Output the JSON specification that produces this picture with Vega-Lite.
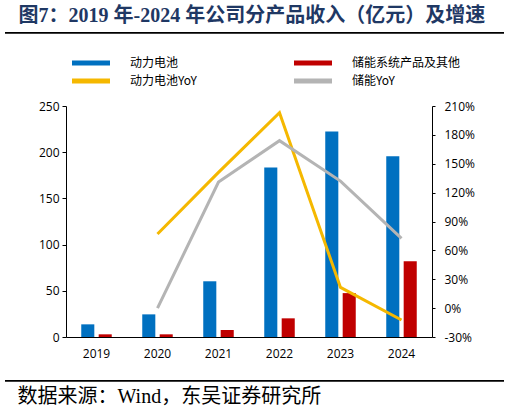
{
  "$schema": "https://vega.github.io/schema/vega-lite/v6.json",
  "autosize": "none",
  "width": 366,
  "height": 231,
  "padding": {"left": 66, "top": 106, "right": 77, "bottom": 76},
  "background": "white",
  "config": {
    "view": {"stroke": null},
    "axis": {"grid": false, "domainColor": "#000", "tickColor": "#000", "labelColor": "#000", "labelFont": "Open Sans", "labelFontSize": 12}
  },
  "data": {
    "values": [
      {"year": "2019", "series": "动力电池", "value": 13.7},
      {"year": "2020", "series": "动力电池", "value": 24.5},
      {"year": "2021", "series": "动力电池", "value": 60.3},
      {"year": "2022", "series": "动力电池", "value": 183.5},
      {"year": "2023", "series": "动力电池", "value": 222.5},
      {"year": "2024", "series": "动力电池", "value": 195.5},
      {"year": "2019", "series": "储能系统产品及其他", "value": 2.9},
      {"year": "2020", "series": "储能系统产品及其他", "value": 2.9},
      {"year": "2021", "series": "储能系统产品及其他", "value": 7.6},
      {"year": "2022", "series": "储能系统产品及其他", "value": 20.2},
      {"year": "2023", "series": "储能系统产品及其他", "value": 47.5},
      {"year": "2024", "series": "储能系统产品及其他", "value": 82},
      {"year": "2020", "series": "动力电池YoY", "value": 77},
      {"year": "2021", "series": "动力电池YoY", "value": 141},
      {"year": "2022", "series": "动力电池YoY", "value": 203},
      {"year": "2023", "series": "动力电池YoY", "value": 21.5},
      {"year": "2024", "series": "动力电池YoY", "value": -12.3},
      {"year": "2020", "series": "储能YoY", "value": 0},
      {"year": "2021", "series": "储能YoY", "value": 131},
      {"year": "2022", "series": "储能YoY", "value": 174},
      {"year": "2023", "series": "储能YoY", "value": 132},
      {"year": "2024", "series": "储能YoY", "value": 72.5}
    ]
  },
  "layer": [
    {
      "transform": [{"filter": {"field": "series", "oneOf": ["动力电池", "储能系统产品及其他"]}}],
      "mark": {"type": "bar"},
      "encoding": {
        "x": {
          "field": "year",
          "type": "nominal",
          "scale": {"paddingInner": 0.5, "paddingOuter": 0.25},
          "axis": {
            "labelAngle": 0,
            "ticks": false,
            "labelPadding": 11,
            "title": "数据来源：Wind，东吴证券研究所",
            "titleFont": "Liberation Serif, Noto Sans CJK SC",
            "titleFontSize": 20,
            "titleFontWeight": "normal",
            "titleColor": "#000",
            "titleAnchor": "start",
            "titleAlign": "left",
            "titleBaseline": "middle",
            "titleX": -49,
            "titleY": 59
          }
        },
        "xOffset": {
          "field": "series",
          "scale": {"domain": ["动力电池", "储能系统产品及其他"], "paddingInner": 0.25, "paddingOuter": 0}
        },
        "y": {
          "field": "value",
          "type": "quantitative",
          "scale": {"domain": [0, 250], "nice": false},
          "axis": {
            "orient": "left",
            "values": [0, 50, 100, 150, 200, 250],
            "tickSize": 4,
            "labelPadding": 3,
            "title": "图7：2019 年-2024 年公司分产品收入（亿元）及增速",
            "titleFont": "Liberation Serif, Noto Sans CJK SC",
            "titleFontSize": 20,
            "titleFontWeight": "bold",
            "titleColor": "#1F3864",
            "titleAngle": 0,
            "titleAnchor": "start",
            "titleAlign": "left",
            "titleBaseline": "middle",
            "titleX": -48,
            "titleY": -91
          }
        },
        "color": {
          "field": "series",
          "type": "nominal",
          "scale": {
            "domain": ["动力电池", "储能系统产品及其他", "动力电池YoY", "储能YoY"],
            "range": ["#0070C0", "#C00000", "#F5B800", "#B4B4B4"]
          },
          "legend": {
            "orient": "none",
            "direction": "horizontal",
            "legendX": 5,
            "legendY": -49,
            "columns": 2,
            "columnPadding": 96,
            "rowPadding": 6,
            "padding": 0,
            "title": null,
            "symbolType": "M-3.8,-0.5H3.8V0.5H-3.8Z",
            "symbolSize": 100,
            "symbolStrokeWidth": 0,
            "symbolOffset": 14,
            "labelOffset": 33,
            "labelFont": "Noto Sans CJK SC",
            "labelFontSize": 12,
            "labelColor": "#000"
          }
        }
      }
    },
    {
      "transform": [{"filter": {"field": "series", "oneOf": ["动力电池YoY", "储能YoY"]}}],
      "mark": {"type": "line", "strokeWidth": 3},
      "encoding": {
        "x": {"field": "year", "type": "nominal"},
        "y": {
          "field": "value",
          "type": "quantitative",
          "scale": {"domain": [-30, 210], "nice": false},
          "axis": {"orient": "right", "values": [-30, 0, 30, 60, 90, 120, 150, 180, 210], "labelExpr": "datum.value + '%'", "title": null, "tickSize": 3, "labelPadding": 9}
        },
        "color": {"field": "series", "type": "nominal"}
      }
    },
    {
      "data": {"values": [{"edge": "top"}]},
      "mark": {"type": "rect", "fill": "#000", "stroke": null},
      "encoding": {
        "x": {"value": -61},
        "x2": {"value": 438},
        "y": {"value": -74},
        "y2": {"value": -72.3}
      }
    },
    {
      "data": {"values": [{"edge": "bottom"}]},
      "mark": {"type": "rect", "fill": "#000", "stroke": null},
      "encoding": {
        "x": {"value": -61},
        "x2": {"value": 438},
        "y": {"value": 274},
        "y2": {"value": 275.7}
      }
    }
  ],
  "resolve": {"scale": {"y": "independent"}}
}
